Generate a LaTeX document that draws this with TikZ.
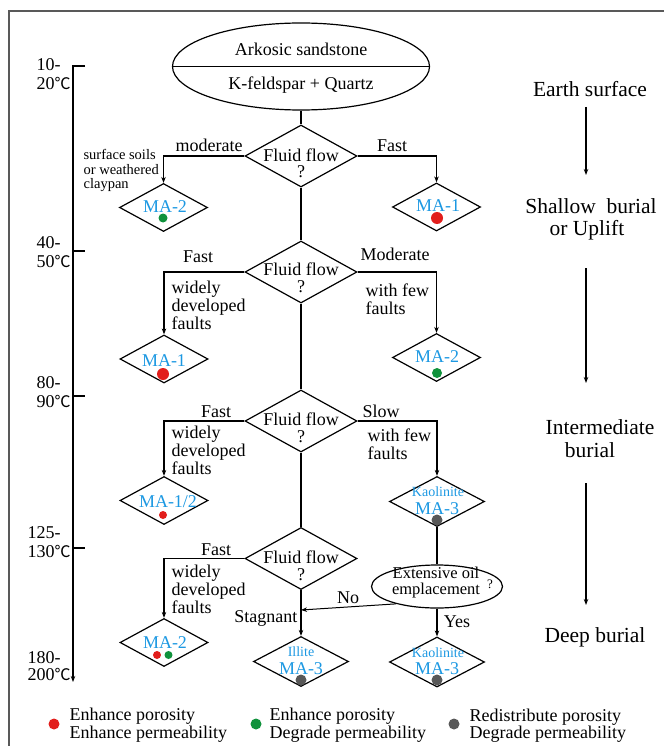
\documentclass[tikz,border=0pt]{standalone}
\usepackage{fontspec}
\setmainfont{Liberation Serif}
\newfontfamily\cjkfont{Noto Sans CJK SC}
\usetikzlibrary{shapes.geometric,arrows.meta}
\definecolor{mablue}{RGB}{28,152,226}
\definecolor{dotred}{RGB}{226,30,28}
\definecolor{dotgreen}{RGB}{16,146,60}
\definecolor{dotgray}{RGB}{88,88,88}
\newcommand{\mydegC}{{\cjkfont\fontsize{16}{16}\selectfont ℃}}
\begin{document}
\begin{tikzpicture}[x=1pt,y=-1pt,line width=1.2pt,
  arr/.style={-{Stealth[length=6pt,width=4.5pt]}},
  bigdia/.style={draw,diamond,inner sep=0,minimum width=112pt,minimum height=62pt},
  smdia/.style={draw,diamond,inner sep=0,minimum width=88pt,minimum height=48pt},
  mdia/.style={draw,diamond,inner sep=0,minimum width=95pt,minimum height=50pt},
  txt/.style={inner sep=0,font=\fontsize{18}{18}\selectfont,align=center},
  ltxt/.style={inner sep=0,font=\fontsize{18}{18}\selectfont,align=left},
  small/.style={inner sep=0,font=\fontsize{14.5}{15}\selectfont,align=left},
  matxt/.style={inner sep=0,font=\fontsize{18}{18}\selectfont,text=mablue},
  mineral/.style={inner sep=0,font=\fontsize{14}{14}\selectfont,text=mablue},
  stage/.style={inner sep=0,font=\fontsize{21.5}{22}\selectfont,align=center},
  temp/.style={inner sep=0,font=\fontsize{18}{19}\selectfont,align=left},
  dot/.style={circle,inner sep=0,minimum size=#1},
]
\useasboundingbox (0,0) rectangle (664,746);
% frame
\draw[line width=1.2pt,black!65] (9,746) -- (9,11) -- (664,11);

% top ellipse
\node[draw,ellipse,inner sep=0,minimum width=257pt,minimum height=87pt] (top) at (301,66.5) {};
\draw (top.west) -- (top.east);
\node[txt,anchor=base] (ark) at (301,56) {Arkosic sandstone};
\node[txt,anchor=base] (kfq) at (301,90) {K-feldspar + Quartz};

% main decision diamonds
\node[bigdia] (d1) at (301,156) {};
\node[bigdia] (d2) at (301,272) {};
\node[bigdia] (d3) at (301,421) {};
\node[bigdia] (d4) at (301,558.5) {};
\foreach \n/\y in {d1/161,d2/275,d3/425,d4/563}{
  \node[txt,anchor=base] (\n t) at (301,\y) {Fluid flow};
  \node[txt,anchor=base] (\n q) at (301,\y+17) {?};
}

% result diamonds
\node[smdia] (ma2a) at (163.5,207.5) {};
\node[smdia] (ma1a) at (436.5,207) {};
\node[smdia] (ma1b) at (164,359) {};
\node[smdia] (ma2b) at (436.5,357.5) {};
\node[smdia] (ma12) at (164,500.5) {};
\node[mdia] (kao1) at (437,501.5) {};
\node[smdia] (ma2c) at (164,642.5) {};
\node[mdia] (ill) at (301,661.5) {};
\node[mdia] (kao2) at (437,662) {};
\node[draw,ellipse,inner sep=0,minimum width=131pt,minimum height=43pt] (oil) at (437,586.5) {};

% connectors
\draw (top.south) -- (d1.north);
\draw (d1.south) -- (d2.north);
\draw (d2.south) -- (d3.north);
\draw (d3.south) -- (d4.north);
\draw[arr] (d1.west) -| (ma2a.north);
\draw[arr] (d1.east) -| (ma1a.north);
\draw[arr] (d2.west) -| (ma1b.north);
\draw[arr] (d2.east) -| (ma2b.north);
\draw[arr] (d3.west) -| (ma12.north);
\draw[arr] (d3.east) -| (kao1.north);
\draw[arr] (d4.west) -| (ma2c.north);
\draw[arr] (d4.south) -- (ill.north);
\draw (kao1.south) -- (oil.north);
\draw[arr] (oil.south) -- (kao2.north);
\coordinate (nj) at (301,610);
\draw[arr,line width=1pt] (oil.203) -- (nj);

% branch labels
\node[txt,anchor=base] (l1) at (209,152) {moderate};
\node[txt,anchor=base] (l2) at (392,152) {Fast};
\node[small,anchor=base west] (l3a) at (83,160) {surface soils};
\node[small,anchor=base west] (l3b) at (83,175) {or weathered};
\node[small,anchor=base west] (l3c) at (83,189) {claypan};
\node[txt,anchor=base] (l4) at (198,262) {Fast};
\node[ltxt,anchor=base west] (l5a) at (171,293) {widely};
\node[ltxt,anchor=base west] (l5b) at (171,311) {developed};
\node[ltxt,anchor=base west] (l5c) at (171,329) {faults};
\node[txt,anchor=base] (l6) at (395,260) {Moderate};
\node[ltxt,anchor=base west] (l7a) at (365,296) {with few};
\node[ltxt,anchor=base west] (l7b) at (365,314) {faults};
\node[txt,anchor=base] (l8) at (216,417) {Fast};
\node[ltxt,anchor=base west] (l9a) at (171,438) {widely};
\node[ltxt,anchor=base west] (l9b) at (171,456) {developed};
\node[ltxt,anchor=base west] (l9c) at (171,474) {faults};
\node[txt,anchor=base] (l10) at (381,417) {Slow};
\node[ltxt,anchor=base west] (l11a) at (367,441) {with few};
\node[ltxt,anchor=base west] (l11b) at (367,459) {faults};
\node[txt,anchor=base] (l12) at (216,555) {Fast};
\node[ltxt,anchor=base west] (l13a) at (171,577) {widely};
\node[ltxt,anchor=base west] (l13b) at (171,595) {developed};
\node[ltxt,anchor=base west] (l13c) at (171,613) {faults};
\node[txt,anchor=base east] (l14) at (298,622) {Stagnant};
\node[txt,anchor=base] (l15) at (348,603) {No};
\node[txt,anchor=base] (l16) at (457,627) {Yes};
\node[inner sep=0,font=\fontsize{16.5}{16.5}\selectfont,anchor=base] (oila) at (436,578) {Extensive oil};
\node[inner sep=0,font=\fontsize{16.5}{16.5}\selectfont,anchor=base] (oilb) at (436,594) {emplacement};
\node[inner sep=0,font=\fontsize{13}{13}\selectfont] (oilq) at (490,584) {?};

% MA texts and dots
\node[matxt,anchor=base] (t1) at (165,212) {MA-2};
\node[dot=9pt,fill=dotgreen] (c1) at (163,218) {};
\node[matxt,anchor=base] (t2) at (438,211) {MA-1};
\node[dot=12pt,fill=dotred] (c2) at (437,218) {};
\node[matxt,anchor=base] (t3) at (164,366) {MA-1};
\node[dot=12pt,fill=dotred] (c3) at (163,374) {};
\node[matxt,anchor=base] (t4) at (437,362) {MA-2};
\node[dot=10pt,fill=dotgreen] (c4) at (437,373) {};
\node[matxt,anchor=base] (t5) at (168,507) {MA-1/2};
\node[dot=8pt,fill=dotred] (c5) at (163,515) {};
\node[mineral,anchor=base] (t6a) at (438,496.5) {Kaolinite};
\node[matxt,anchor=base] (t6b) at (437,514) {MA-3};
\node[dot=11pt,fill=dotgray] (c6) at (437,520) {};
\node[matxt,anchor=base] (t7) at (165,648) {MA-2};
\node[dot=8pt,fill=dotred] (c7a) at (157,655) {};
\node[dot=8pt,fill=dotgreen] (c7b) at (168.5,655) {};
\node[mineral,anchor=base] (t8a) at (301,656.5) {Illite};
\node[matxt,anchor=base] (t8b) at (301,674) {MA-3};
\node[dot=11pt,fill=dotgray] (c8) at (301,680) {};
\node[mineral,anchor=base] (t9a) at (438,657.5) {Kaolinite};
\node[matxt,anchor=base] (t9b) at (437,674) {MA-3};
\node[dot=11pt,fill=dotgray] (c9) at (437,680) {};

% temperature axis
\draw[arr] (85,66) -- (73,66) -- (73,682);
\foreach \y in {251,396,548}{ \draw (73,\y) -- (85,\y); }
\node[temp,anchor=base west] (tA1) at (36,71) {10-};
\node[temp,anchor=base west] (tA2) at (36,90) {20\mydegC};
\node[temp,anchor=base west] (tB1) at (36,248) {40-};
\node[temp,anchor=base west] (tB2) at (36,267) {50\mydegC};
\node[temp,anchor=base west] (tC1) at (36,388) {80-};
\node[temp,anchor=base west] (tC2) at (36,407) {90\mydegC};
\node[temp,anchor=base west] (tD1) at (27,538) {125-};
\node[temp,anchor=base west] (tD2) at (27,557) {130\mydegC};
\node[temp,anchor=base west] (tE1) at (27,663) {180-};
\node[temp,anchor=base west] (tE2) at (27,680) {200\mydegC};

% burial stages
\node[stage,anchor=base] (s1) at (590,97) {Earth surface};
\node[stage,anchor=base] (s2a) at (591,213) {Shallow\ \ burial};
\node[stage,anchor=base] (s2b) at (587,235) {or Uplift};
\node[stage,anchor=base] (s3a) at (600,434) {Intermediate};
\node[stage,anchor=base] (s3b) at (590,457) {burial};
\node[stage,anchor=base] (s4) at (595,642) {Deep burial};
\coordinate (a1s) at (586,107); \coordinate (a1e) at (586,175);
\coordinate (a2s) at (586,268); \coordinate (a2e) at (586,383);
\coordinate (a3s) at (586,483); \coordinate (a3e) at (586,605);
\draw[arr] (a1s) -- (a1e);
\draw[arr] (a2s) -- (a2e);
\draw[arr] (a3s) -- (a3e);

% legend
\node[dot=11pt,fill=dotred] (g1) at (54,724) {};
\node[ltxt,anchor=base west] (g1a) at (69,720) {Enhance porosity};
\node[ltxt,anchor=base west] (g1b) at (69,738) {Enhance permeability};
\node[dot=11pt,fill=dotgreen] (g2) at (256,724) {};
\node[ltxt,anchor=base west] (g2a) at (269,720) {Enhance porosity};
\node[ltxt,anchor=base west] (g2b) at (269,738) {Degrade permeability};
\node[dot=11pt,fill=dotgray] (g3) at (454,724) {};
\node[ltxt,anchor=base west] (g3a) at (469,721) {Redistribute porosity};
\node[ltxt,anchor=base west] (g3b) at (469,738) {Degrade permeability};
\end{tikzpicture}
\end{document}
